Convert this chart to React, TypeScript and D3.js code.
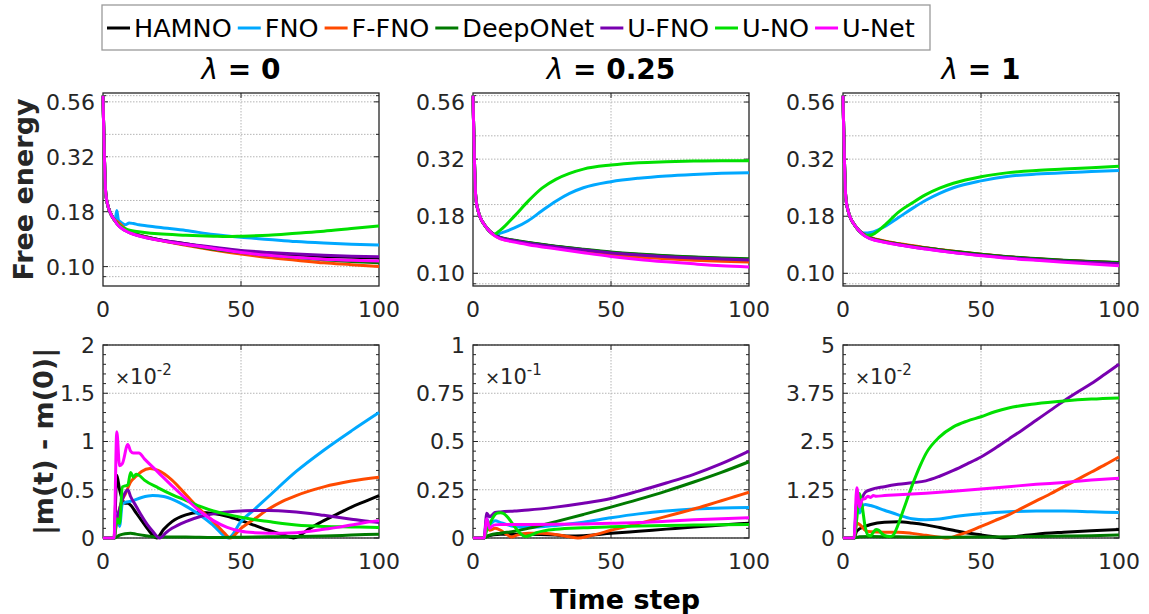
import React, { useEffect, useRef } from 'react'
import * as d3 from 'd3'

type Pt = [number, number]

const models = ['HAMNO', 'FNO', 'F-FNO', 'DeepONet', 'U-FNO', 'U-NO', 'U-Net']
const colors = ['#000000', '#00a8ff', '#ff4a00', '#007a00', '#7800b0', '#00e000', '#ff00ff']
const lambdas = ['0', '0.25', '1']

// free energy, shared first steps
const feHead: Pt[] = [[0, 0.6], [1, 0.215], [2, 0.185], [3, 0.172], [4, 0.164]]
const feHead2: Pt[] = [[5, 0.158], [6, 0.153]]

// free energy, lambda = 0
const fe0HAMNO: Pt[] = [[5, 0.158], [6, 0.153], [8, 0.147], [10, 0.143], [15, 0.137], [20, 0.133], [30, 0.127], [40, 0.1215], [50, 0.1175], [60, 0.1148], [70, 0.1128], [80, 0.1113], [90, 0.1102], [100, 0.1093]]
const fe0FNO: Pt[] = [[4.4, 0.163], [5, 0.18], [5.6, 0.163], [6.5, 0.159], [8, 0.155], [9.5, 0.158], [11, 0.157], [13, 0.155], [15, 0.154], [20, 0.151], [30, 0.146], [40, 0.140], [50, 0.136], [60, 0.133], [70, 0.130], [80, 0.128], [90, 0.1265], [100, 0.1255]]
const fe0FFNO: Pt[] = [[5, 0.161], [6, 0.157], [8, 0.149], [10, 0.143], [15, 0.137], [20, 0.132], [30, 0.125], [40, 0.119], [50, 0.114], [60, 0.110], [70, 0.107], [80, 0.104], [90, 0.102], [100, 0.100]]
const fe0DeepONet: Pt[] = [[5, 0.158], [6, 0.153], [8, 0.147], [10, 0.143], [15, 0.137], [20, 0.1325], [30, 0.126], [40, 0.120], [50, 0.116], [60, 0.1125], [70, 0.110], [80, 0.1075], [90, 0.1055], [100, 0.104]]
const fe0UFNO: Pt[] = [[5, 0.157], [6, 0.152], [8, 0.146], [10, 0.142], [15, 0.136], [20, 0.1325], [30, 0.127], [40, 0.1225], [50, 0.1185], [60, 0.116], [70, 0.114], [80, 0.1125], [90, 0.1115], [100, 0.111]]
const fe0UNO: Pt[] = [[5, 0.158], [6, 0.154], [8, 0.149], [10, 0.146], [15, 0.143], [20, 0.141], [30, 0.139], [40, 0.1375], [45, 0.137], [50, 0.1375], [60, 0.139], [70, 0.142], [80, 0.145], [90, 0.149], [100, 0.153]]
const fe0UNet: Pt[] = [[5, 0.157], [6, 0.152], [8, 0.146], [10, 0.142], [15, 0.136], [20, 0.132], [30, 0.126], [40, 0.121], [50, 0.116], [60, 0.1125], [70, 0.110], [80, 0.108], [90, 0.107], [100, 0.106]]

// free energy, lambda = 0.25
const fe1HAMNO: Pt[] = [[8, 0.147], [10, 0.143], [15, 0.139], [20, 0.136], [30, 0.131], [40, 0.127], [50, 0.1235], [60, 0.121], [70, 0.119], [80, 0.1175], [90, 0.116], [100, 0.1148]]
const fe1FNO: Pt[] = [[7.5, 0.148], [10, 0.150], [15, 0.158], [20, 0.170], [25, 0.188], [30, 0.207], [35, 0.224], [40, 0.237], [50, 0.252], [60, 0.261], [70, 0.267], [80, 0.271], [90, 0.274], [100, 0.276]]
const fe1FFNO: Pt[] = [[8, 0.146], [10, 0.142], [15, 0.138], [20, 0.1345], [30, 0.129], [40, 0.1245], [50, 0.1205], [60, 0.1178], [70, 0.1158], [80, 0.1142], [90, 0.113], [100, 0.112]]
const fe1DeepONet: Pt[] = [[8, 0.147], [10, 0.1435], [15, 0.1395], [20, 0.1365], [30, 0.1315], [40, 0.1275], [50, 0.124], [60, 0.1215], [70, 0.1195], [80, 0.118], [90, 0.1168], [100, 0.1158]]
const fe1UFNO: Pt[] = [[8, 0.1465], [10, 0.1428], [15, 0.1388], [20, 0.1355], [30, 0.1305], [40, 0.1265], [50, 0.1228], [60, 0.1203], [70, 0.1183], [80, 0.1167], [90, 0.1155], [100, 0.1144]]
const fe1UNO: Pt[] = [[7.5, 0.148], [10, 0.155], [15, 0.178], [20, 0.207], [25, 0.236], [30, 0.258], [35, 0.274], [40, 0.286], [50, 0.298], [60, 0.305], [70, 0.308], [80, 0.31], [90, 0.311], [100, 0.311]]
const fe1UNet: Pt[] = [[8, 0.1455], [10, 0.1415], [15, 0.137], [20, 0.1335], [30, 0.128], [40, 0.123], [50, 0.1185], [60, 0.115], [70, 0.1123], [80, 0.110], [90, 0.108], [100, 0.1067]]

// free energy, lambda = 1
const fe2HAMNO: Pt[] = [[8, 0.147], [10, 0.143], [15, 0.138], [20, 0.1345], [30, 0.129], [40, 0.1245], [50, 0.1208], [60, 0.1178], [70, 0.1155], [80, 0.1137], [90, 0.1123], [100, 0.1112]]
const fe2FNO: Pt[] = [[7, 0.150], [8, 0.150], [10, 0.151], [15, 0.160], [20, 0.175], [25, 0.192], [30, 0.209], [35, 0.224], [40, 0.237], [50, 0.254], [60, 0.266], [70, 0.272], [80, 0.276], [90, 0.279], [100, 0.282]]
const fe2FFNO: Pt[] = [[8, 0.1475], [10, 0.1435], [15, 0.1385], [20, 0.135], [30, 0.1295], [40, 0.125], [50, 0.1212], [60, 0.118], [70, 0.1157], [80, 0.1138], [90, 0.1124], [100, 0.1112]]
const fe2DeepONet: Pt[] = [[8, 0.147], [10, 0.143], [15, 0.138], [20, 0.1345], [30, 0.129], [40, 0.1248], [50, 0.1212], [60, 0.1182], [70, 0.116], [80, 0.1142], [90, 0.1127], [100, 0.1115]]
const fe2UFNO: Pt[] = [[8, 0.1455], [10, 0.1418], [15, 0.137], [20, 0.1335], [30, 0.128], [40, 0.1235], [50, 0.12], [60, 0.117], [70, 0.1148], [80, 0.113], [90, 0.1115], [100, 0.1102]]
const fe2UNO: Pt[] = [[7, 0.149], [8, 0.1465], [10, 0.147], [15, 0.162], [20, 0.185], [25, 0.203], [30, 0.221], [35, 0.236], [40, 0.248], [50, 0.265], [60, 0.276], [70, 0.282], [80, 0.286], [90, 0.290], [100, 0.294]]
const fe2UNet: Pt[] = [[8, 0.1455], [10, 0.1415], [15, 0.1368], [20, 0.1333], [30, 0.1278], [40, 0.1232], [50, 0.1195], [60, 0.1163], [70, 0.114], [80, 0.1118], [90, 0.1098], [100, 0.1079]]

// |m(t) - m(0)|, lambda = 0 (x 1e-2)
const m0HAMNO: Pt[] = [[0, 0], [4, 0], [5, 0.65], [6, 0.5], [7, 0.4], [8, 0.36], [9, 0.36], [10, 0.34], [12, 0.26], [14, 0.18], [16, 0.1], [19.5, 0], [22, 0.09], [25, 0.17], [30, 0.24], [35, 0.265], [40, 0.255], [45, 0.225], [50, 0.18], [55, 0.13], [60, 0.08], [65, 0.035], [69, 0], [75, 0.1], [80, 0.18], [85, 0.25], [90, 0.32], [95, 0.38], [100, 0.44]]
const m0FNO: Pt[] = [[0, 0], [4, 0], [5, 0.25], [6, 0.12], [7, 0.35], [8, 0.37], [10, 0.38], [14, 0.42], [18, 0.44], [22, 0.43], [26, 0.39], [30, 0.33], [35, 0.24], [40, 0.13], [45.5, 0], [50, 0.17], [55, 0.3], [60, 0.43], [70, 0.69], [80, 0.91], [90, 1.11], [100, 1.30]]
const m0FFNO: Pt[] = [[0, 0], [4, 0], [5, 0.18], [6, 0.3], [7, 0.4], [8, 0.45], [10, 0.58], [12, 0.64], [14, 0.69], [17, 0.72], [20, 0.70], [25, 0.6], [30, 0.45], [35, 0.3], [40, 0.17], [44, 0.05], [46, 0], [50, 0.1], [55, 0.2], [60, 0.3], [65, 0.38], [70, 0.44], [80, 0.53], [90, 0.59], [100, 0.63]]
const m0DeepONet: Pt[] = [[0, 0], [4, 0], [6, 0.03], [8, 0.045], [10, 0.05], [12, 0.04], [15, 0.025], [20, 0.01], [30, 0.01], [40, 0.005], [50, 0.008], [60, 0.012], [70, 0.015], [80, 0.02], [90, 0.03], [100, 0.04]]
const m0UFNO: Pt[] = [[0, 0], [4, 0], [5, 0.2], [6, 0.3], [7, 0.4], [8, 0.47], [9, 0.5], [10, 0.43], [12, 0.33], [14, 0.23], [16, 0.14], [18, 0.07], [20.5, 0], [23, 0.06], [25, 0.1], [30, 0.17], [35, 0.22], [40, 0.25], [45, 0.27], [50, 0.28], [55, 0.285], [60, 0.285], [65, 0.28], [70, 0.27], [75, 0.255], [80, 0.235], [85, 0.215], [90, 0.195], [95, 0.175], [100, 0.16]]
const m0UNO: Pt[] = [[0, 0], [4, 0], [5, 0.2], [6, 0.15], [7, 0.53], [8, 0.54], [9, 0.55], [10, 0.68], [11, 0.63], [12, 0.66], [13, 0.65], [15, 0.6], [20, 0.52], [25, 0.45], [30, 0.39], [35, 0.33], [40, 0.28], [45, 0.245], [50, 0.215], [55, 0.19], [60, 0.17], [65, 0.15], [70, 0.135], [80, 0.12], [90, 0.115], [100, 0.11]]
const m0UNet: Pt[] = [[0, 0], [4, 0], [5, 1.1], [6, 0.75], [7, 0.77], [9, 0.97], [10, 0.9], [11, 0.88], [13, 0.88], [15, 0.82], [20, 0.68], [25, 0.54], [30, 0.41], [35, 0.28], [40, 0.18], [45, 0.11], [50, 0.07], [55, 0.055], [60, 0.05], [65, 0.05], [70, 0.055], [75, 0.07], [80, 0.09], [85, 0.11], [90, 0.135], [95, 0.16], [100, 0.18]]

// |m(t) - m(0)|, lambda = 0.25 (x 1e-1)
const m1HAMNO: Pt[] = [[0, 0], [4, 0], [5, 0.01], [10, 0.02], [20, 0.02], [30, 0.015], [35, 0.01], [40, 0.012], [50, 0.024], [60, 0.035], [70, 0.046], [80, 0.057], [90, 0.067], [100, 0.077]]
const m1FNO: Pt[] = [[0, 0], [4, 0], [5, 0.1], [6, 0.07], [8, 0.09], [10, 0.08], [15, 0.06], [20, 0.055], [30, 0.065], [40, 0.082], [50, 0.105], [60, 0.125], [70, 0.14], [80, 0.15], [90, 0.156], [100, 0.158]]
const m1FFNO: Pt[] = [[0, 0], [4, 0], [5, 0.06], [6, 0.04], [8, 0.05], [10, 0.04], [12, 0.02], [14, 0.005], [16, 0.015], [20, 0.025], [25, 0.025], [30, 0.018], [35, 0.006], [38, 0], [42, 0.01], [45, 0.02], [50, 0.04], [55, 0.057], [60, 0.075], [65, 0.093], [70, 0.112], [75, 0.131], [80, 0.15], [85, 0.171], [90, 0.193], [95, 0.215], [100, 0.237]]
const m1DeepONet: Pt[] = [[0, 0], [4, 0], [6, 0.015], [10, 0.025], [15, 0.035], [20, 0.05], [30, 0.085], [40, 0.122], [50, 0.16], [60, 0.2], [70, 0.243], [80, 0.29], [90, 0.34], [100, 0.395]]
const m1UFNO: Pt[] = [[0, 0], [4, 0], [5, 0.128], [6, 0.11], [7, 0.12], [8, 0.132], [10, 0.135], [15, 0.14], [20, 0.145], [30, 0.16], [40, 0.18], [50, 0.205], [60, 0.243], [70, 0.285], [80, 0.33], [90, 0.385], [100, 0.45]]
const m1UNO: Pt[] = [[0, 0], [4, 0], [5, 0.04], [6, 0.07], [7, 0.1], [8, 0.122], [9, 0.13], [10, 0.131], [11, 0.128], [13, 0.1], [15, 0.06], [17, 0.025], [19, 0.008], [21, 0.015], [23, 0.028], [26, 0.038], [30, 0.045], [40, 0.053], [50, 0.058], [60, 0.062], [70, 0.065], [80, 0.067], [90, 0.069], [100, 0.07]]
const m1UNet: Pt[] = [[0, 0], [4, 0], [5, 0.1], [6, 0.05], [7, 0.062], [8, 0.068], [10, 0.07], [20, 0.07], [30, 0.071], [40, 0.073], [50, 0.076], [60, 0.08], [70, 0.087], [80, 0.094], [90, 0.1], [100, 0.105]]

// |m(t) - m(0)|, lambda = 1 (x 1e-2)
const m2HAMNO: Pt[] = [[0, 0], [4, 0], [5, 0.18], [8, 0.3], [10, 0.35], [15, 0.41], [20, 0.42], [25, 0.39], [30, 0.34], [35, 0.27], [40, 0.2], [45, 0.13], [50, 0.08], [55, 0.03], [58, 0], [65, 0.06], [70, 0.1], [80, 0.15], [90, 0.19], [100, 0.22]]
const m2FNO: Pt[] = [[0, 0], [4, 0], [5, 0.9], [6, 0.65], [7, 0.82], [8, 0.87], [10, 0.84], [15, 0.72], [20, 0.6], [25, 0.5], [30, 0.47], [35, 0.49], [40, 0.55], [50, 0.63], [60, 0.68], [70, 0.7], [80, 0.7], [90, 0.68], [100, 0.66]]
const m2FFNO: Pt[] = [[0, 0], [4, 0], [5, 0.38], [6, 0.35], [7, 0.28], [8, 0.2], [10, 0.16], [15, 0.15], [20, 0.15], [25, 0.12], [30, 0.07], [35, 0.02], [38, 0], [42, 0.08], [45, 0.15], [50, 0.3], [55, 0.45], [60, 0.6], [65, 0.78], [70, 0.96], [75, 1.14], [80, 1.33], [85, 1.52], [90, 1.71], [95, 1.9], [100, 2.1]]
const m2DeepONet: Pt[] = [[0, 0], [4, 0], [6, 0.03], [10, 0.04], [20, 0.03], [30, 0.02], [40, 0.02], [50, 0.025], [60, 0.03], [70, 0.04], [80, 0.05], [90, 0.06], [100, 0.08]]
const m2UFNO: Pt[] = [[0, 0], [4, 0], [5, 0.95], [6, 0.85], [7, 1.05], [8, 1.18], [10, 1.25], [15, 1.33], [20, 1.39], [25, 1.43], [30, 1.48], [35, 1.6], [40, 1.75], [45, 1.92], [50, 2.1], [55, 2.32], [60, 2.56], [65, 2.8], [70, 3.05], [75, 3.3], [80, 3.55], [85, 3.78], [90, 4.0], [95, 4.25], [100, 4.5]]
const m2UNO: Pt[] = [[0, 0], [4, 0], [5, 0.5], [6, 1.15], [7, 0.8], [8, 0.3], [9, 0.08], [10, 0.06], [11, 0.15], [12, 0.22], [13, 0.2], [14, 0.12], [15, 0.07], [17, 0.04], [18, 0.06], [20, 0.35], [22, 0.75], [25, 1.35], [28, 1.88], [30, 2.18], [35, 2.62], [40, 2.88], [45, 3.03], [50, 3.14], [55, 3.27], [60, 3.37], [70, 3.48], [80, 3.55], [90, 3.6], [100, 3.63]]
const m2UNet: Pt[] = [[0, 0], [4, 0], [5, 1.3], [6, 0.8], [7, 1.0], [8, 1.02], [9, 1.08], [10, 1.05], [11, 1.1], [12, 1.08], [15, 1.1], [20, 1.12], [30, 1.16], [40, 1.21], [50, 1.27], [60, 1.33], [70, 1.39], [80, 1.44], [90, 1.5], [100, 1.55]]

// ticks
const xTicks = [0, 50, 100]
const feTicks = [0.1, 0.1778, 0.3162, 0.5623]
const feTickLabels = ['0.10', '0.18', '0.32', '0.56']
const feMinor = [0.09, 0.2, 0.4, 0.6]
const feDomains = [[0.0816, 0.617], [0.088, 0.616], [0.088, 0.616]]
const mTicks = [[0, 0.5, 1, 1.5, 2], [0, 0.25, 0.5, 0.75, 1], [0, 1.25, 2.5, 3.75, 5]]
const mTickLabels = [['0', '0.5', '1', '1.5', '2'], ['0', '0.25', '0.5', '0.75', '1'], ['0', '1.25', '2.5', '3.75', '5']]
const mMinorStep = [0.1, 0.05, 0.25]
const mExponents = ['-2', '-1', '-2']

const feSeries: Pt[][][] = [
  [fe0HAMNO, fe0FNO, fe0FFNO, fe0DeepONet, fe0UFNO, fe0UNO, fe0UNet].map((s) => [...feHead, ...s]),
  [fe1HAMNO, fe1FNO, fe1FFNO, fe1DeepONet, fe1UFNO, fe1UNO, fe1UNet].map((s) => [...feHead, ...feHead2, ...s]),
  [fe2HAMNO, fe2FNO, fe2FFNO, fe2DeepONet, fe2UFNO, fe2UNO, fe2UNet].map((s) => [...feHead, ...feHead2, ...s]),
]
const mSeries: Pt[][][] = [
  [m0HAMNO, m0FNO, m0FFNO, m0DeepONet, m0UFNO, m0UNO, m0UNet],
  [m1HAMNO, m1FNO, m1FFNO, m1DeepONet, m1UFNO, m1UNO, m1UNet],
  [m2HAMNO, m2FNO, m2FFNO, m2DeepONet, m2UFNO, m2UNO, m2UNet],
]

const W = 1149
const H = 614
const FONT = "'DejaVu Sans', sans-serif"
const AX = '#262626'
const colLeft = [103, 473, 843]
const panelW = 276
const topRow = [93, 286]
const botRow = [345, 538]

export default function App() {
  const ref = useRef<SVGSVGElement>(null)

  useEffect(() => {
    const svg = d3.select(ref.current)
    svg.selectAll('*').remove()

    const drawPanel = (left: number, rowY: number[], ys: any, majors: number[], labels: string[], minors: number[], minorGrid: boolean, series: Pt[][]) => {
      const xs = d3.scaleLinear().domain([0, 100]).range([left, left + panelW])
      const [top, bottom] = rowY
      const g = svg.append('g')
      const right = left + panelW

      g.append('rect').attr('x', left).attr('y', top).attr('width', panelW).attr('height', bottom - top).attr('fill', '#fff')

      const gridVals = minorGrid ? majors.concat(minors) : majors
      g.selectAll('line.gy')
        .data(gridVals)
        .join('line')
        .attr('x1', left)
        .attr('x2', right)
        .attr('y1', (d) => ys(d))
        .attr('y2', (d) => ys(d))
        .attr('stroke', '#b4b4b4')
        .attr('stroke-width', 1)
        .attr('stroke-dasharray', '1.5 1.5')
      g.append('line')
        .attr('x1', xs(50))
        .attr('x2', xs(50))
        .attr('y1', top)
        .attr('y2', bottom)
        .attr('stroke', '#b4b4b4')
        .attr('stroke-dasharray', '1.5 1.5')

      // ticks, inside
      const tick = (vals: number[], len: number) => {
        vals.forEach((v) => {
          const yy = ys(v)
          g.append('line').attr('x1', left).attr('x2', left + len).attr('y1', yy).attr('y2', yy).attr('stroke', AX)
          g.append('line').attr('x1', right).attr('x2', right - len).attr('y1', yy).attr('y2', yy).attr('stroke', AX)
        })
      }
      tick(majors, 5)
      tick(minors, 3)
      g.append('line').attr('x1', xs(50)).attr('x2', xs(50)).attr('y1', bottom).attr('y2', bottom - 5).attr('stroke', AX)
      g.append('line').attr('x1', xs(50)).attr('x2', xs(50)).attr('y1', top).attr('y2', top + 5).attr('stroke', AX)

      g.append('rect')
        .attr('x', left)
        .attr('y', top)
        .attr('width', panelW)
        .attr('height', bottom - top)
        .attr('fill', 'none')
        .attr('stroke', AX)
        .attr('stroke-width', 1.3)

      g.selectAll('text.yl')
        .data(majors)
        .join('text')
        .attr('x', left - 8)
        .attr('y', (d) => ys(d))
        .attr('dy', '0.36em')
        .attr('text-anchor', 'end')
        .attr('font-family', FONT)
        .attr('font-size', 22)
        .attr('fill', AX)
        .text((d, i) => labels[i])

      g.selectAll('text.xl')
        .data(xTicks)
        .join('text')
        .attr('x', (d) => xs(d))
        .attr('y', bottom + 31)
        .attr('text-anchor', 'middle')
        .attr('font-family', FONT)
        .attr('font-size', 22)
        .attr('fill', AX)
        .text((d) => String(d))

      const line = d3
        .line<Pt>()
        .x((d) => xs(d[0]))
        .y((d) => ys(d[1]))
        .curve(d3.curveMonotoneX)

      series.forEach((s, i) => {
        g.append('path')
          .attr('d', line(s))
          .attr('fill', 'none')
          .attr('stroke', colors[i])
          .attr('stroke-width', 3)
          .attr('stroke-linejoin', 'round')
      })
      return g
    }

    lambdas.forEach((lam, c) => {
      const left = colLeft[c]
      const yTop = d3.scaleLog().domain(feDomains[c]).range([topRow[1], topRow[0]])
      drawPanel(left, topRow, yTop, feTicks, feTickLabels, feMinor, true, feSeries[c])

      const mMax = mTicks[c][mTicks[c].length - 1]
      const yBot = d3.scaleLinear().domain([0, mMax]).range([botRow[1], botRow[0]])
      const minors = d3.range(0, mMax + 1e-9, mMinorStep[c]).filter((v) => !mTicks[c].some((t) => Math.abs(t - v) < 1e-9))
      const g = drawPanel(left, botRow, yBot, mTicks[c], mTickLabels[c], minors, false, mSeries[c])

      const ex = g.append('text').attr('x', left + 12).attr('y', 384).attr('font-family', FONT).attr('fill', AX)
      ex.append('tspan').attr('font-size', 18).text('×')
      ex.append('tspan').attr('font-size', 21).text('10')
      ex.append('tspan').attr('font-size', 15).attr('dy', -9).text(mExponents[c])

      const title = svg
        .append('text')
        .attr('x', left + panelW / 2)
        .attr('y', 79)
        .attr('text-anchor', 'middle')
        .attr('font-family', FONT)
        .attr('font-size', 28)
        .attr('fill', '#000')
      title.append('tspan').attr('font-style', 'italic').attr('font-weight', 'normal').text('λ')
      title.append('tspan').attr('font-weight', 'bold').text(' = ' + lam)
    })

    svg
      .append('text')
      .attr('transform', `translate(33,${(topRow[0] + topRow[1]) / 2}) rotate(-90)`)
      .attr('text-anchor', 'middle')
      .attr('font-family', FONT)
      .attr('font-weight', 'bold')
      .attr('font-size', 27)
      .attr('fill', AX)
      .text('Free energy')

    svg
      .append('text')
      .attr('transform', `translate(53,${(botRow[0] + botRow[1]) / 2}) rotate(-90)`)
      .attr('text-anchor', 'middle')
      .attr('font-family', FONT)
      .attr('font-weight', 'bold')
      .attr('font-size', 27)
      .attr('fill', AX)
      .text('|m(t) - m(0)|')

    svg
      .append('text')
      .attr('x', 625)
      .attr('y', 609)
      .attr('text-anchor', 'middle')
      .attr('font-family', FONT)
      .attr('font-weight', 'bold')
      .attr('font-size', 27)
      .attr('fill', '#000')
      .text('Time step')

    // legend
    const lg = svg.append('g')
    lg.append('rect').attr('x', 102).attr('y', 5).attr('width', 828).attr('height', 45).attr('fill', '#fff').attr('stroke', '#9a9a9a').attr('stroke-width', 1.3)
    let cx = 107
    models.forEach((m, i) => {
      lg.append('line').attr('x1', cx).attr('x2', cx + 23).attr('y1', 28).attr('y2', 28).attr('stroke', colors[i]).attr('stroke-width', 3)
      const t = lg
        .append('text')
        .attr('x', cx + 27)
        .attr('y', 37)
        .attr('font-family', FONT)
        .attr('font-size', 25.5)
        .attr('fill', '#000')
        .text(m)
      const w = (t.node() as SVGTextElement).getComputedTextLength()
      cx = cx + 27 + w + 6
    })
  }, [])

  return <svg ref={ref} width={W} height={H} style={{ position: 'absolute', left: 0, top: 0, background: '#fff' }} />
}
